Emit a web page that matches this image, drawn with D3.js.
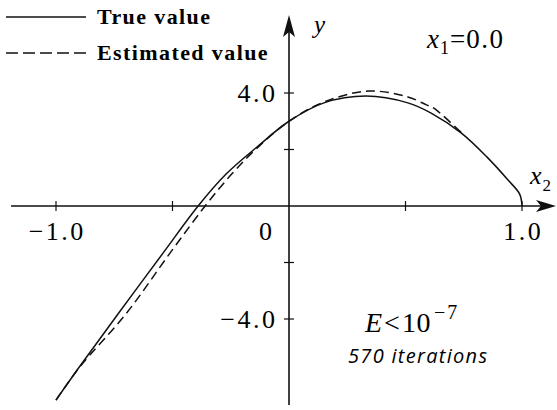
<!DOCTYPE html>
<html><head><meta charset="utf-8">
<script src="https://cdn.jsdelivr.net/npm/d3@7"></script>
<style>
html,body{margin:0;padding:0;background:#fff;}
svg{display:block;}
</style></head>
<body>
<svg id="chart" width="557" height="410"></svg>
<script>
// ---- data ----
const trueX = [-1.0, -0.90, -0.73, -0.54, -0.39, -0.27, -0.14, 0.0, 0.15, 0.33, 0.51, 0.61, 0.74, 0.85, 0.94, 0.99, 1.0];
const trueY = [-6.87, -5.7, -3.78, -1.66, 0.0, 1.13, 2.07, 3.0, 3.65, 3.89, 3.65, 3.29, 2.58, 1.73, 0.92, 0.42, 0.0];
const estX = [-1.0, -0.90, -0.70, -0.51, -0.36, -0.245, -0.14, 0.0, 0.15, 0.34, 0.51, 0.59, 0.62, 0.74];
const estY = [-6.87, -5.72, -3.82, -1.66, 0.0, 1.14, 2.03, 3.0, 3.68, 4.07, 3.86, 3.58, 3.47, 2.6];
const xTicks = [-1.0, -0.5, 0.5, 1.0];
const yTicks = [4.0, 2.0, -2.0, -4.0];
const xTickLabels = [{v: -1.0, t: "\u22121.0"}, {v: 0.0, t: "0"}, {v: 1.0, t: "1.0"}];
const yTickLabels = [{v: 4.0, t: "4.0"}, {v: -4.0, t: "\u22124.0"}];
const legendItems = ["True value", "Estimated value"];

const svg = d3.select("#chart");
const x = d3.scaleLinear().domain([-1, 1]).range([56, 522]);
const y = d3.scaleLinear().domain([0, 4]).range([206, 93]);
const serif = "'Liberation Serif', 'DejaVu Serif', serif";
const axisColor = "#111";

// axes lines
svg.append("line").attr("x1", 11).attr("x2", 545).attr("y1", y(0)).attr("y2", y(0))
  .attr("stroke", axisColor).attr("stroke-width", 1.3);
svg.append("path").attr("d", `M${556},${y(0)} L${536},${y(0)-6} L${541},${y(0)} L${536},${y(0)+6} Z`).attr("fill", axisColor);
svg.append("line").attr("x1", x(0)).attr("x2", x(0)).attr("y1", 405).attr("y2", 30)
  .attr("stroke", axisColor).attr("stroke-width", 1.6);
svg.append("path").attr("d", `M${x(0)},${15} L${x(0)-6},${37} L${x(0)},${32} L${x(0)+6},${37} Z`).attr("fill", axisColor);

// ticks
svg.selectAll(".xt").data(xTicks).join("line").attr("class", "xt")
  .attr("x1", d => x(d)).attr("x2", d => x(d)).attr("y1", y(0) - 5).attr("y2", y(0) + 5)
  .attr("stroke", axisColor).attr("stroke-width", 1.2);
svg.selectAll(".yt").data(yTicks).join("line").attr("class", "yt")
  .attr("y1", d => y(d)).attr("y2", d => y(d)).attr("x1", x(0) - 5).attr("x2", x(0) + 5)
  .attr("stroke", axisColor).attr("stroke-width", 1.2);

// tick labels (start-anchored, positioned from measured width)
const tickFont = 26, tickLS = 2.5;
function measure(t, size, ls) {
  const tmp = svg.append("text").attr("font-family", serif).attr("font-size", size)
    .attr("letter-spacing", ls).attr("x", -999).attr("y", 100).text(t);
  const w = tmp.node().getComputedTextLength();
  tmp.remove();
  return w - ls;
}
xTickLabels.forEach(d => {
  const w = measure(d.t, tickFont, tickLS);
  const cx = d.v === 0 ? x(0) - 17 - w : x(d.v) - w / 2;
  svg.append("text").attr("class", "xl").attr("x", cx).attr("y", y(0) + 34)
    .attr("font-family", serif).attr("font-size", tickFont).attr("letter-spacing", tickLS).text(d.t);
});
yTickLabels.forEach(d => {
  const w = measure(d.t, tickFont, tickLS);
  svg.append("text").attr("class", "yl").attr("x", x(0) - 14 - w).attr("y", y(d.v) + 9)
    .attr("font-family", serif).attr("font-size", tickFont).attr("letter-spacing", tickLS).text(d.t);
});

// curves
const line = d3.line().x(d => x(d[0])).y(d => y(d[1])).curve(d3.curveCatmullRom.alpha(0.5));
svg.append("path").datum(trueX.map((v, i) => [v, trueY[i]])).attr("d", line)
  .attr("fill", "none").attr("stroke", "#111").attr("stroke-width", 1.5);
svg.append("path").datum(estX.map((v, i) => [v, estY[i]])).attr("d", line)
  .attr("fill", "none").attr("stroke", "#111").attr("stroke-width", 1.5).attr("stroke-dasharray", "9,5");

// legend
legendItems.forEach((t, i) => {
  const ly = 17 + i * 36;
  svg.append("line").attr("x1", 6).attr("x2", 86).attr("y1", ly).attr("y2", ly)
    .attr("stroke", "#111").attr("stroke-width", 1.4).attr("stroke-dasharray", i ? "12,5" : null);
  svg.append("text").attr("x", 97).attr("y", ly + 7).attr("font-family", serif)
    .attr("font-weight", "bold").attr("font-size", 22).attr("letter-spacing", 1.4).text(t);
});

// helper: place pieces of a formula side by side
function formula(x0, y0, parts) {
  let cx = x0;
  parts.forEach(p => {
    const t = svg.append("text").attr("x", cx).attr("y", y0 + (p.dy || 0))
      .attr("font-family", serif).attr("font-size", p.size)
      .attr("font-style", p.italic ? "italic" : "normal")
      .attr("letter-spacing", p.ls || 0).text(p.text);
    cx += t.node().getComputedTextLength() + (p.gap || 0);
  });
}

// axis names
svg.append("text").attr("x", 314).attr("y", 33).attr("font-family", serif)
  .attr("font-style", "italic").attr("font-size", 25).text("y");
formula(530, 184, [
  {text: "x", size: 26, italic: true, gap: 1},
  {text: "2", size: 17, dy: 7}
]);

// annotations
formula(427, 48, [
  {text: "x", size: 27, italic: true, gap: 1},
  {text: "1", size: 18, dy: 6, gap: 1},
  {text: "=", size: 27, gap: 1},
  {text: "0.0", size: 27, ls: 1.5}
]);
formula(365, 332, [
  {text: "E", size: 28, italic: true, gap: 2},
  {text: "<", size: 28, gap: 2},
  {text: "10", size: 28, ls: 0.5, gap: 3},
  {text: "\u22127", size: 20, dy: -13, ls: 2}
]);

svg.append("text").attr("x", 348).attr("y", 363).attr("font-family", "'Open Sans', 'DejaVu Sans', sans-serif")
  .attr("font-style", "italic").attr("font-size", 20).attr("letter-spacing", 1.3).text("570 iterations");
</script>
</body></html>
